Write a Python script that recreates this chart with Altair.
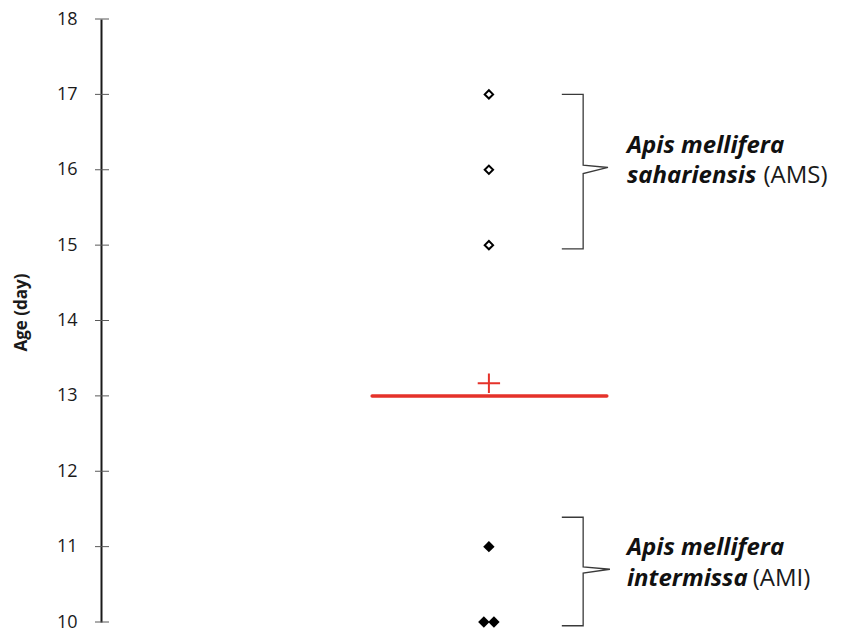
import altair as alt
import pandas as pd

# ---- data ----
ams_age = [15, 16, 17]
ams_x = [1.0, 1.0, 1.0]
ami_age = [11, 10, 10]
ami_x = [1.0, 0.987, 1.013]
y_ticks = [10, 11, 12, 13, 14, 15, 16, 17, 18]

# median line extent (x, data units)
median_x0 = 0.699
median_x1 = 1.304

# brackets (annotation geometry in data units)
br_group = ["AMS"] * 7 + ["AMI"] * 7
br_order = list(range(7)) * 2
br_x = [1.188, 1.243, 1.243, 1.307, 1.243, 1.243, 1.188,
        1.188, 1.243, 1.243, 1.312, 1.243, 1.243, 1.188]
br_y = [17.0, 17.0, 16.06, 16.03, 15.95, 14.95, 14.95,
        11.39, 11.39, 10.73, 10.70, 10.65, 9.95, 9.95]

lab_bold_text = ["Apis mellifera", "sahariensis", "Apis mellifera", "intermissa"]
lab_bold_x = [1.356, 1.356, 1.356, 1.356]
lab_bold_y = [16.225, 15.824, 10.89, 10.48]
lab_reg_text = ["(AMS)", "(AMI)"]
lab_reg_x = [1.708, 1.680]
lab_reg_y = [15.824, 10.48]

FONT = "Open Sans"
RED = "#e5322a"

all_df = pd.DataFrame({
    "x": ams_x + ami_x,
    "age": ams_age + ami_age,
})
ams_df = pd.DataFrame({"x": ams_x, "age": ams_age})
ami_df = pd.DataFrame({"x": ami_x, "age": ami_age})
tick_df = pd.DataFrame({"age": y_ticks})
br_df = pd.DataFrame({"g": br_group, "o": br_order, "x": br_x, "age": br_y})
lb_df = pd.DataFrame({"x": lab_bold_x, "age": lab_bold_y, "t": lab_bold_text})
lr_df = pd.DataFrame({"x": lab_reg_x, "age": lab_reg_y, "t": lab_reg_text})

xs = alt.Scale(domain=[0, 1.9], nice=False, zero=False)
ys = alt.Scale(domain=[10, 18], nice=False, zero=False)

y_axis = alt.Axis(values=y_ticks, ticks=False, grid=False, domain=True,
                  titleX=-80, titleY=293)


def X(f="x"):
    return alt.X(f"{f}:Q", scale=xs, axis=None)


def Y(f="age"):
    return alt.Y(f"{f}:Q", scale=ys, title="Age (day)", axis=y_axis)


axis_layer = alt.Chart(tick_df).mark_rule(color="#595959", strokeWidth=1).encode(
    y=Y(), x=alt.value(-6), x2=alt.value(8)
)

median_line = alt.Chart(all_df).transform_aggregate(
    med="median(age)"
).transform_calculate(
    x0=str(median_x0), x1=str(median_x1)
).mark_rule(color=RED, strokeWidth=3.5, strokeCap="round").encode(
    y=Y("med"), x=X("x0"), x2="x1:Q"
)

mean_plus = alt.Chart(all_df).transform_aggregate(
    mx="mean(x)", my="mean(age)"
).mark_point(
    shape="M-1,0H1M0,-0.87V0.87", filled=False, color=RED, strokeWidth=2, size=500, opacity=1
).encode(y=Y("my"), x=X("mx"))

ams_pts = alt.Chart(ams_df).mark_point(
    shape="diamond", filled=False, color="black", strokeWidth=2, size=70, opacity=1
).encode(x=X(), y=Y())

ami_pts = alt.Chart(ami_df).mark_point(
    shape="diamond", filled=True, color="black", size=130, opacity=1
).encode(x=X(), y=Y())

brackets = alt.Chart(br_df).mark_line(color="#3a3a3a", strokeWidth=1.3).encode(
    x=X(), y=Y(), detail="g:N", order="o:Q"
)

lab_bold = alt.Chart(lb_df).mark_text(
    font=FONT, fontSize=24, fontWeight="bold", fontStyle="italic",
    align="left", baseline="alphabetic", color="#111111"
).encode(x=X(), y=Y(), text="t:N")

lab_reg = alt.Chart(lr_df).mark_text(
    font=FONT, fontSize=24, align="left", baseline="alphabetic", color="#1a1a1a"
).encode(x=X(), y=Y(), text="t:N")

chart = alt.layer(
    axis_layer, median_line, mean_plus, ams_pts, ami_pts, brackets, lab_bold, lab_reg
).properties(
    width=737, height=603,
    padding={"left": 93, "top": 11, "right": 0, "bottom": 10},
    autosize=alt.AutoSizeParams(type="none"),
    background="white",
).configure_view(stroke=None).configure_axisY(
    domainColor="#1a1a1a", domainWidth=2,
    labelFont=FONT, labelFontSize=18, labelColor="#1a1a1a", labelPadding=24,
    titleFont=FONT, titleFontSize=17, titleFontWeight="bold",
    titleColor="#1a1a1a", titleAngle=270, titleAlign="center",
    titleBaseline="middle",
)

chart.save("out.html", embed_options={"renderer": "svg", "actions": False})
